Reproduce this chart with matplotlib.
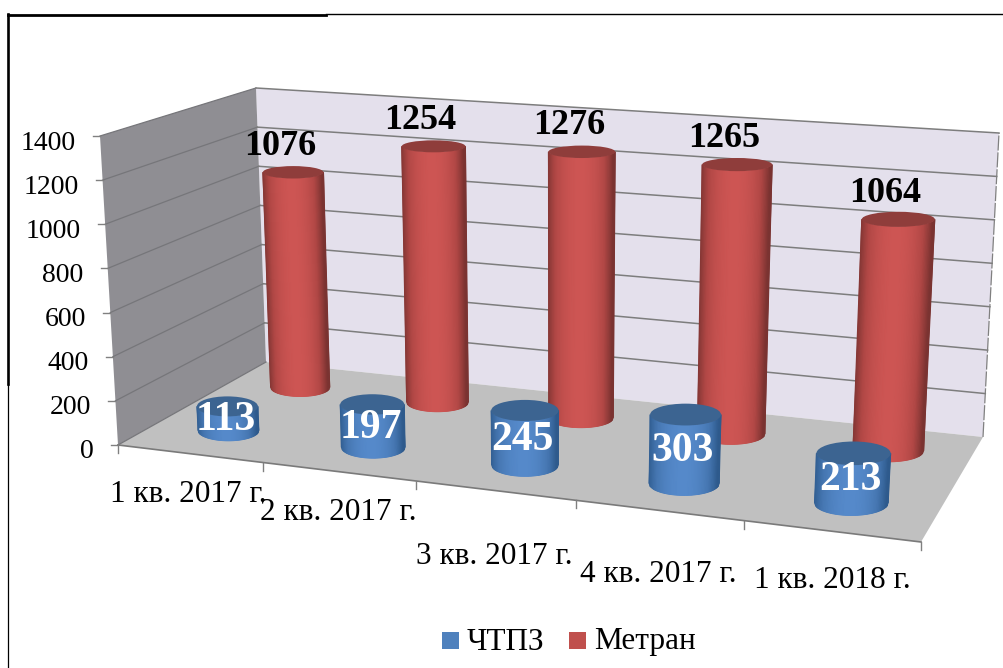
import numpy as np
import matplotlib
matplotlib.use("Agg")
import matplotlib.pyplot as plt
from matplotlib.colors import LinearSegmentedColormap
from matplotlib.patches import Ellipse, Polygon, Rectangle

plt.rcParams['font.family'] = ['Liberation Serif', 'DejaVu Serif']

# ---------- data ----------
CATEGORIES = ["1 кв. 2017 г.", "2 кв. 2017 г.", "3 кв. 2017 г.", "4 кв. 2017 г.", "1 кв. 2018 г."]
CHTPZ = [113, 197, 245, 303, 213]
METRAN = [1076, 1254, 1276, 1265, 1064]
Y_TICKS = [0, 200, 400, 600, 800, 1000, 1200, 1400]
SERIES_NAMES = ["ЧТПЗ", "Метран"]

# ---------- layout ----------
VMAX = 1400.0
FLOOR = [(118, 445), (921, 542), (983, 437), (266, 362)]   # front-L, front-R, back-R, back-L
ROOF = [(100, 136), (941, 195), (999, 133), (256, 88)]
CAT_LABEL_POS = [(188, 495), (338, 512), (494, 557), (658, 575), (832, 580)]
DEPTH = {"blue": 0.25, "red": 0.76}
RU = {"blue": 0.043, "red": 0.044}
RD = 0.115
HEIGHT_FACTOR = 0.983


def homography(q):
    A, b = [], []
    for (u, v), (x, y) in zip([(0, 0), (1, 0), (1, 1), (0, 1)], q):
        A.append([u, v, 1, 0, 0, 0, -u * x, -v * x]); b.append(x)
        A.append([0, 0, 0, u, v, 1, -u * y, -v * y]); b.append(y)
    h = np.linalg.solve(np.array(A, float), np.array(b, float))
    return np.append(h, 1).reshape(3, 3)


H0, H1 = homography(FLOOR), homography(ROOF)


def _ap(H, u, d):
    p = H @ np.array([u, d, 1.0])
    return p[:2] / p[2]


def project(u, d, v):
    t = v / VMAX
    return (1 - t) * _ap(H0, u, d) + t * _ap(H1, u, d)


fig = plt.figure(figsize=(10.04, 6.68), dpi=100)
ax = fig.add_axes([0, 0, 1, 1])
ax.set_xlim(0, 1004)
ax.set_ylim(668, 0)
ax.axis("off")

# frame
ax.plot([8, 326], [14.5, 14.5], color="k", lw=2.0, zorder=1)
ax.plot([326, 1004], [14, 14], color="k", lw=1.0, zorder=1)
ax.plot([8, 8], [14, 384], color="k", lw=1.9, zorder=1)
ax.plot([8.5, 8.5], [384, 668], color="k", lw=0.9, zorder=1)

# walls and floor
ax.add_patch(Polygon([project(0, 1, 0), project(1, 1, 0), project(1, 1, VMAX), project(0, 1, VMAX)],
                     fc="#e4e0ec", ec="none", zorder=2))
ax.add_patch(Polygon([project(0, 0, 0), project(0, 1, 0), project(0, 1, VMAX), project(0, 0, VMAX)],
                     fc="#8f8e93", ec="none", zorder=2))
ax.add_patch(Polygon([project(0, 0, 0), project(1, 0, 0), project(1, 1, 0), project(0, 1, 0)],
                     fc="#c0c0c0", ec="none", zorder=2))

# gridlines, ticks, tick labels
for val in Y_TICKS:
    a, b, c = project(0, 0, val), project(0, 1, val), project(1, 1, val)
    ax.plot([a[0], b[0]], [a[1], b[1]], color="#76767a", lw=0.9, zorder=3)
    if val > 0:
        ax.plot([b[0], c[0]], [b[1], c[1]], color="#7d7d7d", lw=1.1, zorder=3)
    ax.plot([a[0] - 7, a[0]], [a[1], a[1]], color="#808080", lw=1.0, zorder=3)
    ax.text(a[0] - 24, a[1] + 7, str(val), ha="right", va="center", fontsize=20, color="k", zorder=9)

br0, br1 = project(1, 1, 0), project(1, 1, VMAX)
ax.plot([br0[0], br1[0]], [br0[1], br1[1]], color="#808080", lw=0.9, ls=(0, (12, 1.5)), zorder=3)
fl, fr = project(0, 0, 0), project(1, 0, 0)
ax.plot([fl[0], fr[0]], [fl[1], fr[1]], color="#7a7a7a", lw=1.2, zorder=3)
for i in range(len(CATEGORIES) + 1):
    p = project(i / len(CATEGORIES), 0, 0)
    ax.plot([p[0], p[0]], [p[1], p[1] + 8], color="#808080", lw=1.0, zorder=3)
for label, (x, y) in zip(CATEGORIES, CAT_LABEL_POS):
    ax.text(x, y, label, ha="center", va="center", fontsize=22.5, color="k", zorder=9)


def ellipse_at(u, d, v, ru):
    c = project(u, d, v)
    rx = abs(project(u + ru, d, v)[0] - project(u - ru, d, v)[0]) / 2
    ry = abs(project(u, d + RD, v)[1] - project(u, d - RD, v)[1]) / 2
    return c, rx, ry


def cylinder(u, d, value, ru, cmap, top_color, z):
    c0, rx0, ry0 = ellipse_at(u, d, 0, ru)
    c1, rx1, ry1 = ellipse_at(u, d, value * HEIGHT_FACTOR, ru)
    s = np.linspace(-1, 1, 61)
    arc = np.sqrt(1 - s ** 2)
    xb, yb = c0[0] + rx0 * s, c0[1] + ry0 * arc
    xt, yt = c1[0] + rx1 * s, c1[1] + ry1 * arc
    X = np.vstack([xb, xt])
    Y = np.vstack([yb, yt])
    shade = 1 - np.abs(s + 0.05) ** 2.2
    C = np.vstack([shade, shade])
    ax.pcolormesh(X, Y, C, cmap=cmap, vmin=0, vmax=1, shading="gouraud", zorder=z)
    ax.add_patch(Ellipse(c1, 2 * rx1, 2 * ry1, fc=top_color, ec="none", zorder=z + 0.01))
    return c0, c1


RED_CMAP = LinearSegmentedColormap.from_list("r", ["#7a3331", "#b24846", "#cd5553"])
BLUE_CMAP = LinearSegmentedColormap.from_list("b", ["#2e5a8c", "#4677b2", "#5589ca"])
n = len(CATEGORIES)

for i, val in enumerate(METRAN):
    c0, c1 = cylinder((i + 0.5) / n, DEPTH["red"], val, RU["red"], RED_CMAP, "#8f3d3b", 4 + i * 0.1)
    ax.text(c1[0] - 13, c1[1] - 26, str(val), ha="center", va="center", fontsize=26,
            fontweight="bold", color="k", zorder=10)

for i, val in enumerate(CHTPZ):
    c0, c1 = cylinder((i + 0.5) / n, DEPTH["blue"], val, RU["blue"], BLUE_CMAP, "#3c6491", 6 + i * 0.1)
    ax.text((c0[0] + c1[0]) / 2 - 2, (c0[1] + c1[1]) / 2 + 2, str(val), ha="center", va="center",
            fontsize=30, fontweight="bold", color="white", zorder=10)

# legend
for name, color, xs, xt in zip(SERIES_NAMES, ["#4f81bd", "#c0504d"], [442, 569], [467, 594]):
    ax.add_patch(Rectangle((xs, 632), 17, 17, fc=color, ec="none", zorder=9))
    ax.text(xt, 642, name, ha="left", va="center", fontsize=22.5, color="k", zorder=9)

fig.savefig("out.png", dpi=100)
